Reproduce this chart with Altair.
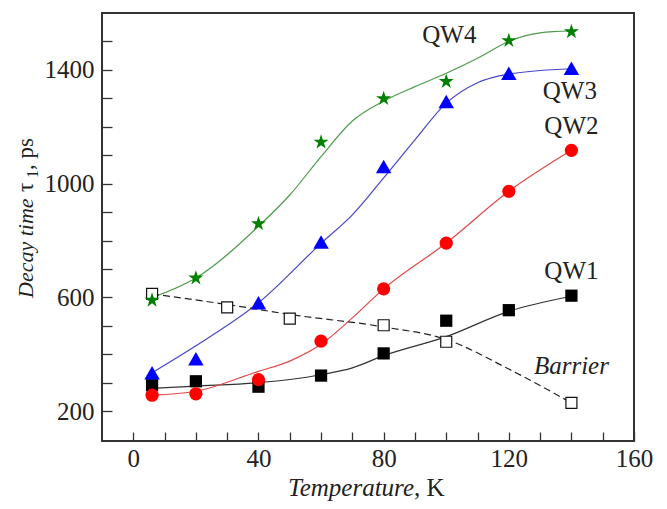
import altair as alt
import pandas as pd

# ---- measured points ----
temps = [6, 20, 40, 60, 80, 100, 120, 140]
qw1 = [291, 305, 286, 325, 403, 518, 555, 606]
qw2 = [256, 261, 311, 446, 630, 791, 973, 1117]
qw3 = [335, 384, 581, 795, 1060, 1289, 1388, 1406]
qw4 = [590, 668, 859, 1146, 1299, 1359, 1503, 1534]
barrier_t = [6, 30, 50, 80, 100, 140]
barrier = [612, 565, 525, 502, 444, 229]

# ---- guide curves ----
fit1_t = [6, 20, 40, 60, 70, 80, 100, 120, 140]
fit1 = [280, 288, 300, 328, 352, 395, 462, 551, 604]
fit2_t = [6, 20, 40, 50, 60, 70, 80, 100, 120, 140]
fit2 = [256, 270, 340, 376, 435, 528, 630, 791, 973, 1117]
fit3_t = [6, 20, 40, 60, 70, 80, 90, 100, 110, 120, 140]
fit3 = [335, 430, 581, 790, 890, 1020, 1154, 1283, 1355, 1385, 1404]
fit4_t = [6, 20, 40, 50, 60, 70, 80, 90, 100, 110, 120, 130, 140]
fit4 = [599, 668, 850, 960, 1095, 1220, 1290, 1341, 1388, 1441, 1500, 1530, 1537]
fitb_t = [6, 30, 50, 80, 100, 120, 140]
fitb = [612, 575, 540, 496, 452, 348, 229]

# ---- series labels ----
label_text = ["QW4", "QW3", "QW2", "QW1"]
label_t = [101, 139.5, 140, 140]
label_v = [1523, 1324, 1201, 692]
barrier_label = ["Barrier"]
barrier_label_t = [140]
barrier_label_v = [358]

x_ticks = list(range(0, 161, 10))
y_ticks = list(range(200, 1501, 100))

FONT = "Liberation Serif"
STAR = ("M0,-1L0.2245,-0.309L0.9511,-0.309L0.3633,0.118L0.5878,0.809L0,0.382"
        "L-0.5878,0.809L-0.3633,0.118L-0.9511,-0.309L-0.2245,-0.309Z")

xscale = alt.Scale(domain=[-10, 160], nice=False, zero=False)
yscale = alt.Scale(domain=[95, 1600], nice=False, zero=False)

xaxis = alt.Axis(values=x_ticks, labelExpr="datum.value % 40 == 0 ? datum.label : ''",
                 format="d", tickSize=9, offset=-9, domain=False, grid=False,
                 labelFont=FONT, labelFontSize=25, labelColor="#222", tickColor="#333",
                 tickWidth=1.3, labelPadding=5, title=None, labelOverlap=False, labelFlush=False)
yaxis = alt.Axis(values=y_ticks, labelExpr="datum.value % 400 == 200 ? datum.label : ''",
                 format="d", tickSize=10, offset=-10, domain=False, grid=False,
                 labelFont=FONT, labelFontSize=25, labelColor="#222", tickColor="#333",
                 tickWidth=1.3, labelPadding=8, title=None, labelOverlap=False, labelFlush=False)


def enc(ch):
    return ch.encode(
        x=alt.X("T:Q", scale=xscale, axis=xaxis),
        y=alt.Y("v:Q", scale=yscale, axis=yaxis),
    )


def df(t, v):
    return pd.DataFrame({"T": t, "v": v})


layers = []
# curves
for t, v, col, dash in [
    (fit1_t, fit1, "#333333", None),
    (fit2_t, fit2, "#e04848", None),
    (fit3_t, fit3, "#4646c8", None),
    (fit4_t, fit4, "#4f9a4f", None),
    (fitb_t, fitb, "#222222", [7, 4]),
]:
    kw = dict(color=col, strokeWidth=1.2, interpolate="monotone", clip=True)
    if dash:
        kw["strokeDash"] = dash
    layers.append(enc(alt.Chart(df(t, v)).mark_line(**kw)))

# points
layers.append(enc(alt.Chart(df(barrier_t, barrier)).mark_point(
    shape="square", filled=True, fill="white", stroke="#111", strokeWidth=1.2, size=121, opacity=1)))
layers.append(enc(alt.Chart(df(temps, qw1)).mark_point(
    shape="square", filled=True, color="#000000", size=150, opacity=1)))
layers.append(enc(alt.Chart(df(temps, qw2)).mark_point(
    shape="circle", filled=True, color="#ff0000", size=175, opacity=1)))
layers.append(enc(alt.Chart(df(temps, qw3)).mark_point(
    shape="triangle-up", filled=True, color="#0000ff", size=240, opacity=1)))
layers.append(enc(alt.Chart(df(temps, qw4)).mark_point(
    shape=STAR, filled=True, color="#008000", size=250, opacity=1)))

# series labels
lab = pd.DataFrame({"T": label_t, "v": label_v, "label": label_text})
layers.append(enc(alt.Chart(lab).mark_text(
    font=FONT, fontSize=25, color="#222", baseline="middle", align="center")).encode(text="label:N"))
blab = pd.DataFrame({"T": barrier_label_t, "v": barrier_label_v, "label": barrier_label})
layers.append(enc(alt.Chart(blab).mark_text(
    font=FONT, fontSize=25, fontStyle="italic", color="#222", baseline="middle", align="center")).encode(text="label:N"))

# axis titles built from pieces (mixed italic / upright)
one = pd.DataFrame({"a": [0]})


def piece(txt, x, y, size=25, style="normal", align="left", angle=0, baseline="alphabetic"):
    return alt.Chart(one).mark_text(
        text=txt, font=FONT, fontSize=size, fontStyle=style, color="#222",
        align=align, baseline=baseline, angle=angle,
    ).encode(x=alt.value(x), y=alt.value(y))


layers += [
    piece("Temperature", 312, 483, style="italic", align="right"),
    piece(", K", 312, 483),
    piece("Decay time", -69, 285, size=22, style="italic", angle=270),
    piece("τ", -69, 179, size=23, angle=270),
    piece("1", -64, 165, size=16, angle=270),
    piece(", ps", -69, 157, size=23, angle=270),
]

chart = alt.layer(*layers).properties(
    width=532, height=428,
    background="white",
    autosize=alt.AutoSizeParams(type="none"),
    padding={"left": 94, "top": 5, "right": 25, "bottom": 60},
).configure_view(stroke="#333", strokeWidth=2)

chart.save("out.html", embed_options={"renderer": "svg", "actions": False})
